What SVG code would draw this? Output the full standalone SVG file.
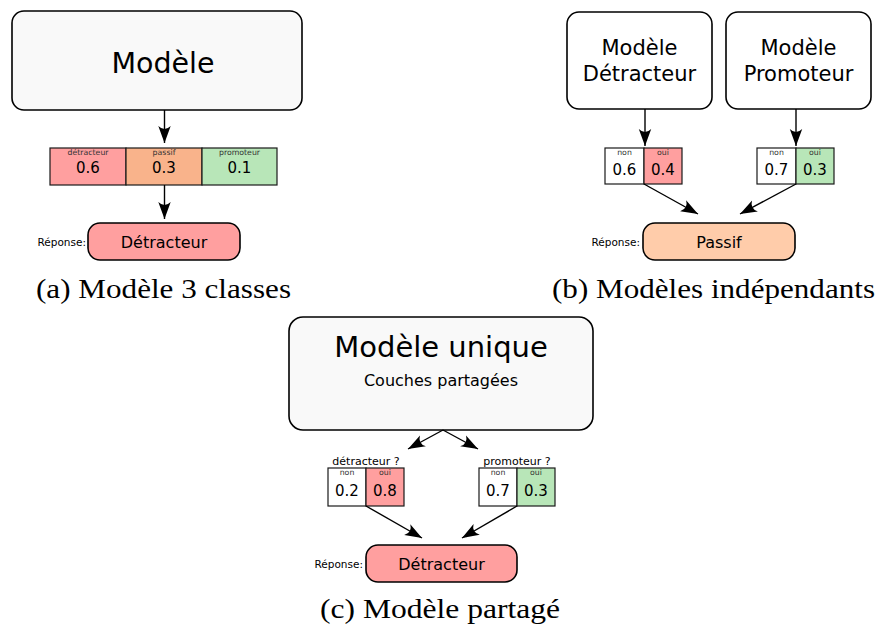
<svg xmlns="http://www.w3.org/2000/svg" width="885" height="631" viewBox="0 0 885 631">
<defs>
<style>
.box{stroke:#000;stroke-width:1.6}
.cell{stroke:#1a1a1a;stroke-width:1.2}
.t{font-family:"DejaVu Sans",sans-serif;fill:#000;text-anchor:middle}
.lab{font-family:"DejaVu Sans",sans-serif;fill:#333;text-anchor:middle;font-size:7.8px}
.num{font-family:"DejaVu Sans",sans-serif;fill:#000;text-anchor:middle;font-size:15px}
.rep{font-family:"DejaVu Sans",sans-serif;fill:#000;text-anchor:end;font-size:10.5px}
.cap{font-family:"Liberation Serif","DejaVu Serif",serif;fill:#000;font-size:28px}
.red{fill:#ff9f9f}
.org{fill:#f9b38b}
.grn{fill:#b8e6b8}
.wht{fill:#fff}
.conn line{stroke:#000;stroke-width:1.4;marker-end:url(#ah)}
</style>
<marker id="ah" markerUnits="userSpaceOnUse" markerWidth="1" markerHeight="1" refX="0" refY="0" orient="auto" overflow="visible">
<path d="M0,0 L-17,-6.2 Q-11,0 -17,6.2 Z" fill="#000"/>
</marker>
</defs>

<!-- (a) -->
<g id="a-model">
<rect class="box" x="12" y="11" width="290" height="99" rx="12" fill="#f9f9f9"/>
<text class="t" x="163" y="73" font-size="28.5">Modèle</text>
</g>
<g id="a-probs">
<rect class="cell red" x="50" y="148" width="76" height="37"/>
<rect class="cell org" x="126" y="148" width="76" height="37"/>
<rect class="cell grn" x="202" y="148" width="75" height="37"/>
<text class="lab" x="88" y="155">détracteur</text>
<text class="lab" x="164" y="155">passif</text>
<text class="lab" x="239.5" y="155">promoteur</text>
<text class="num" x="88" y="173">0.6</text>
<text class="num" x="164" y="173">0.3</text>
<text class="num" x="239.5" y="173">0.1</text>
</g>
<g id="a-response">
<text class="rep" x="86" y="246">Réponse:</text>
<rect class="box red" x="88" y="223" width="152" height="37" rx="12"/>
<text class="t" x="164" y="248" font-size="16">Détracteur</text>
</g>
<text class="cap" x="36" y="298" textLength="255" lengthAdjust="spacingAndGlyphs">(a) Modèle 3 classes</text>

<!-- (b) -->
<g id="b-model-det">
<rect class="box" x="567" y="12" width="145" height="97" rx="12" fill="#fff"/>
<text class="t" x="639.5" y="55" font-size="21">Modèle</text>
<text class="t" x="639.5" y="81" font-size="21">Détracteur</text>
</g>
<g id="b-model-pro">
<rect class="box" x="726" y="12" width="145" height="97" rx="12" fill="#fff"/>
<text class="t" x="798.5" y="55" font-size="21">Modèle</text>
<text class="t" x="798.5" y="81" font-size="21">Promoteur</text>
</g>
<g id="b-probs-det">
<rect class="cell wht" x="605" y="148" width="39" height="36"/>
<rect class="cell red" x="644" y="148" width="38" height="36"/>
<text class="lab" x="624.5" y="155">non</text>
<text class="lab" x="663" y="155">oui</text>
<text class="num" x="624.5" y="175">0.6</text>
<text class="num" x="663" y="175">0.4</text>
</g>
<g id="b-probs-pro">
<rect class="cell wht" x="757" y="148" width="39" height="36"/>
<rect class="cell grn" x="796" y="148" width="38" height="36"/>
<text class="lab" x="776.5" y="155">non</text>
<text class="lab" x="815" y="155">oui</text>
<text class="num" x="776.5" y="175">0.7</text>
<text class="num" x="815" y="175">0.3</text>
</g>
<g id="b-response">
<text class="rep" x="640" y="246">Réponse:</text>
<rect class="box" x="643" y="223" width="152" height="37" rx="12" fill="#ffccaa"/>
<text class="t" x="719" y="248" font-size="16">Passif</text>
</g>
<text class="cap" x="552" y="298" textLength="323" lengthAdjust="spacingAndGlyphs">(b) Modèles indépendants</text>

<!-- (c) -->
<g id="c-model">
<rect class="box" x="289" y="317" width="304" height="113" rx="14" fill="#f9f9f9" stroke-width="2"/>
<text class="t" x="441" y="357" font-size="29">Modèle unique</text>
<text class="t" x="441" y="386" font-size="16">Couches partagées</text>
</g>
<g id="c-probs-det">
<text class="t" x="366" y="465" font-size="11">détracteur ?</text>
<rect class="cell wht" x="328" y="468" width="38" height="38"/>
<rect class="cell red" x="366" y="468" width="38" height="38"/>
<text class="lab" x="347" y="475">non</text>
<text class="lab" x="385" y="475">oui</text>
<text class="num" x="347" y="496">0.2</text>
<text class="num" x="385" y="496">0.8</text>
</g>
<g id="c-probs-pro">
<text class="t" x="517" y="465" font-size="11">promoteur ?</text>
<rect class="cell wht" x="479" y="468" width="38" height="38"/>
<rect class="cell grn" x="517" y="468" width="38" height="38"/>
<text class="lab" x="498" y="475">non</text>
<text class="lab" x="536" y="475">oui</text>
<text class="num" x="498" y="496">0.7</text>
<text class="num" x="536" y="496">0.3</text>
</g>
<g id="c-response">
<text class="rep" x="363" y="568">Réponse:</text>
<rect class="box red" x="366" y="545" width="151" height="37" rx="12"/>
<text class="t" x="441.5" y="570" font-size="16">Détracteur</text>
</g>
<text class="cap" x="320" y="618" textLength="240" lengthAdjust="spacingAndGlyphs">(c) Modèle partagé</text>

<g id="connectors" class="conn">
<line x1="164.5" y1="110" x2="164.5" y2="143"/>
<line x1="164.5" y1="185" x2="164.5" y2="219"/>
<line x1="645" y1="109" x2="645" y2="146"/>
<line x1="796" y1="109" x2="796" y2="146"/>
<line x1="644" y1="184" x2="698" y2="214"/>
<line x1="796" y1="184" x2="740" y2="214"/>
<line x1="443" y1="430" x2="408" y2="449"/>
<line x1="443" y1="430" x2="478" y2="449"/>
<line x1="366" y1="506" x2="422" y2="538"/>
<line x1="517" y1="506" x2="462" y2="538"/>
</g>
</svg>
